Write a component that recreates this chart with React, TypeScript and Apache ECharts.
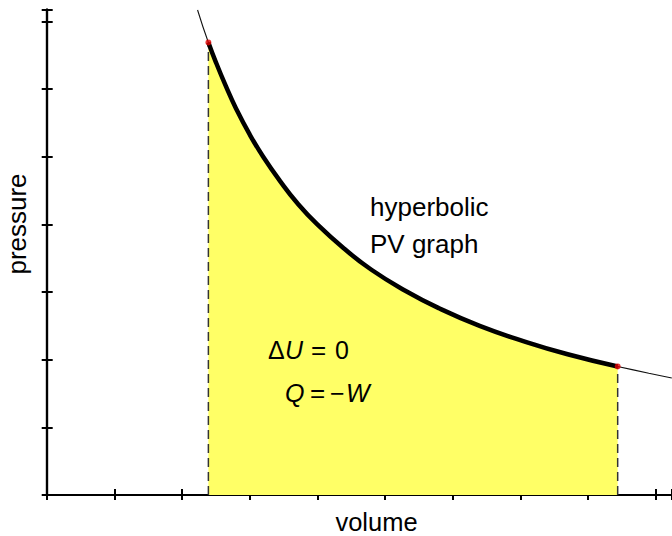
import React, { useEffect, useRef } from "react";
import * as echarts from "echarts";

// Process curve (thick): volume / pressure readings
const volumes = [2.39, 2.5, 2.65, 2.8, 3.0, 3.2, 3.45, 3.7, 4.0, 4.4, 4.8, 5.3, 5.8, 6.4, 7.0, 7.7, 8.44];
const pressures = [6.69, 6.4, 6.04, 5.71, 5.33, 5.0, 4.64, 4.32, 4.0, 3.64, 3.33, 3.02, 2.76, 2.5, 2.29, 2.08, 1.9];
// Full isotherm (thin)
const isoVolumes = [2.23, 2.39, 2.6, 2.8, 3.0, 3.3, 3.6, 4.0, 4.5, 5.0, 5.5, 6.0, 6.5, 7.0, 7.5, 8.0, 8.44, 8.9, 9.24];
const isoPressures = [7.17, 6.69, 6.15, 5.71, 5.33, 4.85, 4.44, 4.0, 3.56, 3.2, 2.91, 2.67, 2.46, 2.29, 2.13, 2.0, 1.9, 1.8, 1.73];
// End states
const endVolumes = [2.39, 8.44];
const endPressures = [6.69, 1.9];

const X_MAX = 9.243;
const Y_MAX = 7.177;

export default function App() {
  const ref = useRef<HTMLDivElement>(null);
  useEffect(() => {
    if (!ref.current) return;
    const chart = echarts.init(ref.current, null, { renderer: "svg" });
    const curve = volumes.map((v, i) => [v, pressures[i]]);
    const iso = isoVolumes.map((v, i) => [v, isoPressures[i]]);
    const ends = endVolumes.map((v, i) => [v, endPressures[i]]);
    const axisLine = { show: true, onZero: false, lineStyle: { color: "#000", width: 2.2 } };
    const font = "Liberation Sans, Arial, sans-serif";
    const mkX = (inside: boolean, len: number) => ({
      type: "value",
      min: 0,
      max: X_MAX,
      interval: 1,
      position: "bottom",
      axisLine,
      axisTick: { show: true, inside, length: len, lineStyle: { color: "#000", width: 2 } },
      axisLabel: { show: false },
      splitLine: { show: false },
    });
    const mkY = (inside: boolean, len: number) => ({
      type: "value",
      min: 0,
      max: Y_MAX,
      interval: 1,
      position: "left",
      axisLine,
      axisTick: { show: true, inside, length: len, lineStyle: { color: "#000", width: 2 } },
      axisLabel: { show: false },
      splitLine: { show: false },
    });
    const dash = { color: "#333", width: 1.5, type: [9, 5] as any };
    const t = (text: string, x: number, y: number, size: number, italic = false, align = "left") => ({
      type: "text",
      x,
      y,
      z: 100,
      style: {
        text,
        font: `${italic ? "italic " : ""}${size}px ${font}`,
        fill: "#000",
        textAlign: align,
        textVerticalAlign: "middle",
      },
    });
    chart.setOption({
      animation: false,
      grid: { left: 46.7, right: 0, top: 9.5, bottom: 41 },
      xAxis: [mkX(false, 5), mkX(true, 6)],
      yAxis: [mkY(false, 5), mkY(true, 6)],
      series: [
        {
          type: "line",
          data: curve,
          smooth: true,
          symbol: "none",
          lineStyle: { width: 0 },
          areaStyle: { color: "#ffff66", opacity: 1, origin: "start" },
          z: 1,
        },
        {
          type: "line",
          data: [[endVolumes[0], 0], ends[0]],
          symbol: "none",
          lineStyle: dash,
          z: 2,
        },
        {
          type: "line",
          data: [[endVolumes[1], 0], ends[1]],
          symbol: "none",
          lineStyle: dash,
          z: 2,
        },
        {
          type: "line",
          data: iso,
          smooth: true,
          symbol: "none",
          lineStyle: { color: "#111", width: 1.1 },
          z: 3,
        },
        {
          type: "line",
          data: curve,
          smooth: true,
          symbol: "none",
          lineStyle: { color: "#000", width: 4.5 },
          z: 4,
        },
        {
          type: "scatter",
          data: ends,
          symbolSize: 6,
          itemStyle: { color: "#e00000" },
          z: 5,
        },
      ],
      graphic: [
        t("volume", 376.5, 521.5, 25.5, false, "center"),
        {
          type: "text",
          x: 17,
          y: 224,
          z: 100,
          rotation: Math.PI / 2,
          style: { text: "pressure", font: `26px ${font}`, fill: "#000", textAlign: "center", textVerticalAlign: "middle" },
        },
        t("hyperbolic", 370, 207, 26),
        t("PV graph", 370, 244, 26),
        t("Δ", 268, 350, 25),
        t("U", 285, 350, 25, true),
        t("=", 311, 350, 26),
        t("0", 335, 350, 25),
        t("Q", 285, 393, 25, true),
        t("=", 310, 393, 26),
        t("−", 330, 393, 25),
        t("W", 346, 393, 25, true),
      ],
    });
    return () => chart.dispose();
  }, []);
  return (
    <div
      ref={ref}
      style={{ position: "fixed", left: 0, top: 0, width: 672, height: 536, background: "#fff" }}
    />
  );
}
